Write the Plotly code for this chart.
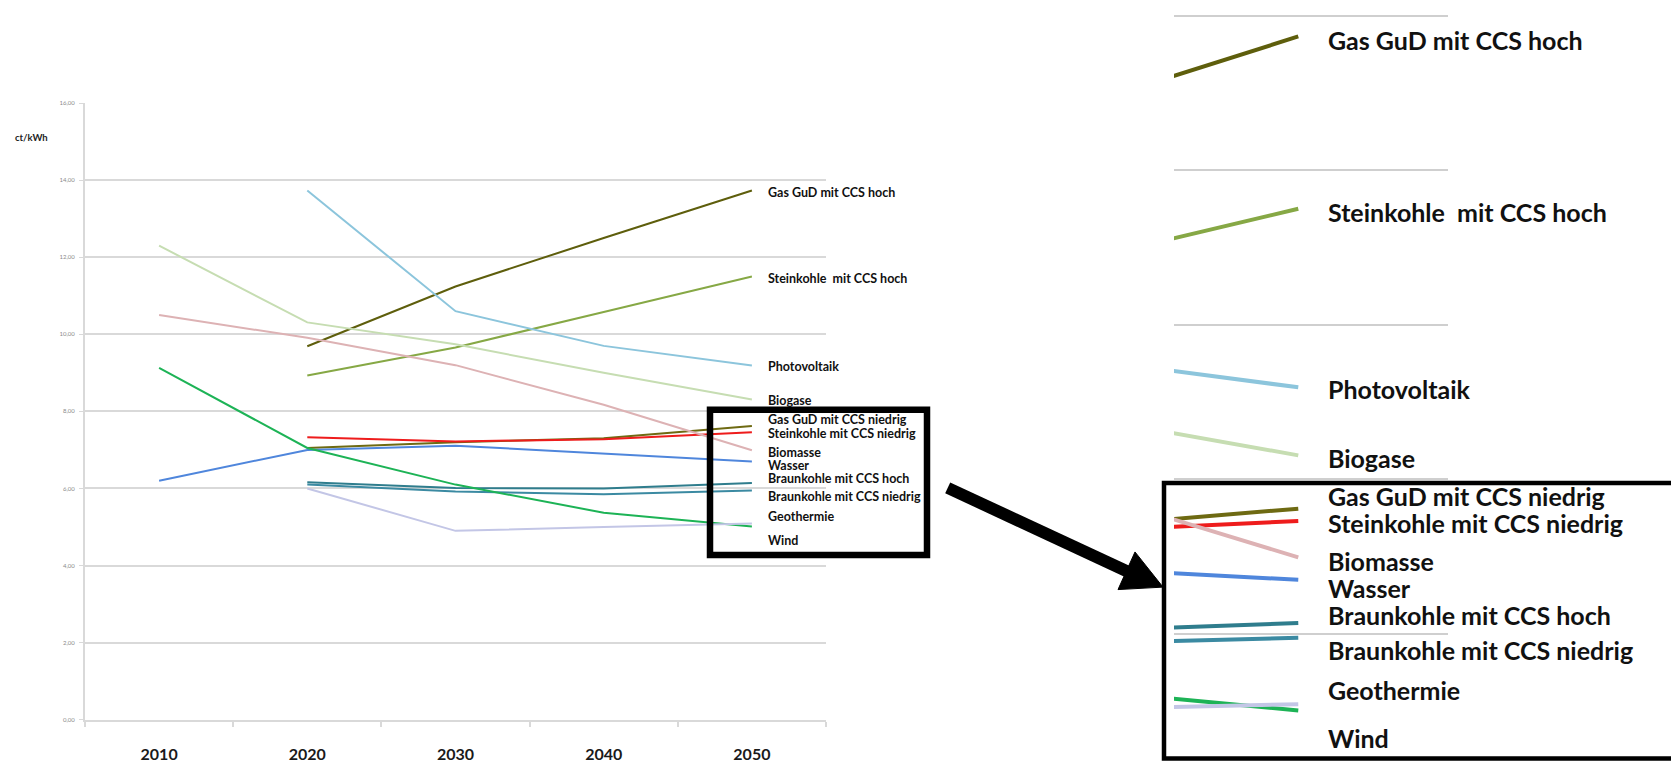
import plotly.graph_objects as go

# ---- data -------------------------------------------------------------
years = [2010, 2020, 2030, 2040, 2050]
year_labels = ["2010", "2020", "2030", "2040", "2050"]

series_names = [
    "Gas GuD mit CCS hoch",
    "Steinkohle  mit CCS hoch",
    "Photovoltaik",
    "Biogase",
    "Gas GuD mit CCS niedrig",
    "Steinkohle mit CCS niedrig",
    "Biomasse",
    "Wasser",
    "Braunkohle mit CCS hoch",
    "Braunkohle mit CCS niedrig",
    "Geothermie",
    "Wind",
]

gas_hoch = [None, 9.69, 11.24, 12.50, 13.73]
stein_hoch = [None, 8.93, 9.66, 10.58, 11.50]
photovoltaik = [None, 13.73, 10.60, 9.70, 9.19]
biogase = [12.30, 10.31, 9.74, 9.00, 8.31]
gas_niedrig = [None, 7.05, 7.20, 7.30, 7.62]
stein_niedrig = [None, 7.33, 7.22, 7.28, 7.46]
biomasse = [10.50, 9.91, 9.20, 8.17, 6.99]
wasser = [6.20, 7.00, 7.11, 6.90, 6.70]
braun_hoch = [None, 6.16, 6.01, 6.00, 6.14]
braun_niedrig = [None, 6.10, 5.92, 5.85, 5.95]
geothermie = [9.13, 7.05, 6.10, 5.37, 5.01]
wind = [None, 6.00, 4.90, 5.00, 5.09]

values = [gas_hoch, stein_hoch, photovoltaik, biogase, gas_niedrig, stein_niedrig,
          biomasse, wasser, braun_hoch, braun_niedrig, geothermie, wind]

y_ticks = [0, 2, 4, 6, 8, 10, 12, 14, 16]

# ---- styling ----------------------------------------------------------
colors = ["#5e5e0c", "#86a845", "#8cc5dc", "#c6ddb2", "#6e6a12", "#ee1c1c",
          "#ddb2b4", "#4f86dc", "#2f7d8d", "#3b8aa2", "#1db356", "#c3c6e6"]

# vertical placement of the end labels (ct/kWh units)
label_pos = [13.69, 11.46, 9.17, 8.27, 7.79, 7.43, 6.94, 6.59, 6.25, 5.79, 5.27, 4.65]

W, H = 1671, 765
FONT = "Lato"
GRID = "#d9d9d9"


def px(x):
    return x / W


def py(y):
    return 1 - y / H


fig = go.Figure()

# main chart and magnified view of the 2050 end
for vals, col in zip(values, colors):
    fig.add_trace(go.Scatter(x=years, y=vals, mode="lines", line=dict(color=col, width=2),
                             showlegend=False, hoverinfo="skip", xaxis="x", yaxis="y"))
for vals, col in zip(values, colors):
    fig.add_trace(go.Scatter(x=years, y=vals, mode="lines", line=dict(color=col, width=4),
                             showlegend=False, hoverinfo="skip", xaxis="x2", yaxis="y2"))

last_year = years[-1]
annotations = []
for name, ly in zip(series_names, label_pos):
    annotations.append(dict(x=last_year, y=ly, xref="x", yref="y", text=name, showarrow=False,
                            xanchor="left", yanchor="middle", xshift=14,
                            font=dict(family=FONT, size=12.5, color="#111111", weight="bold")))
    annotations.append(dict(x=last_year, y=ly, xref="x2", yref="y2", text=name, showarrow=False,
                            xanchor="left", yanchor="middle", xshift=28,
                            font=dict(family=FONT, size=25, color="#111111", weight="bold")))

annotations.append(dict(x=px(13), y=py(135), xref="paper", yref="paper", text="ct/kWh",
                        showarrow=False, xanchor="left", yanchor="middle",
                        font=dict(family=FONT, size=9.5, color="#222222", weight="bold")))

shapes = [
    # highlight frame around the 2050 labels
    dict(type="rect", xref="paper", yref="paper", x0=px(710), x1=px(927), y0=py(409.5), y1=py(556),
         line=dict(color="black", width=6.5), fillcolor="rgba(0,0,0,0)"),
    # frame of the magnified view
    dict(type="rect", xref="paper", yref="paper", x0=px(1164), x1=px(1690), y0=py(483.5), y1=py(761.5),
         line=dict(color="black", width=4.5), fillcolor="rgba(0,0,0,0)"),
    # arrow shaft
    dict(type="line", xref="paper", yref="paper", x0=px(947.7), y0=py(488.3), x1=px(1128), y1=py(573),
         line=dict(color="black", width=12)),
    # arrow head
    dict(type="path", xref="paper", yref="paper",
         path=f"M {px(1135)} {py(553)} L {px(1118)} {py(591)} L {px(1163)} {py(588.5)} Z",
         fillcolor="black", line=dict(color="black", width=1)),
]

fig.update_layout(
    width=W, height=H,
    margin=dict(l=0, r=0, t=0, b=0),
    paper_bgcolor="white", plot_bgcolor="white",
    separators=",.",
    annotations=annotations,
    shapes=shapes,
    xaxis=dict(range=[2005, 2055], domain=[px(85), px(826)], showgrid=False, zeroline=False,
               showline=True, linecolor=GRID, linewidth=2,
               tickvals=years, ticktext=year_labels, ticks="", ticklabelstandoff=19,
               minor=dict(tick0=2005, dtick=10, ticks="outside", ticklen=5,
                          tickcolor=GRID, tickwidth=1.5, showgrid=False),
               tickfont=dict(family=FONT, size=16, color="#1a1a1a", weight="bold")),
    yaxis=dict(range=[0, 16], domain=[py(722.3), py(100)], tickvals=y_ticks, tickformat=".2f",
               showgrid=True, gridcolor=GRID, gridwidth=1.5, zeroline=False,
               showline=True, linecolor=GRID, linewidth=2,
               ticks="outside", ticklen=4, tickcolor=GRID, ticklabelstandoff=3,
               tickfont=dict(family=FONT, size=6, color="#8a8a8a")),
    xaxis2=dict(range=[2045.85, 2055], domain=[px(1174), px(1448)], anchor="y2",
                showgrid=False, zeroline=False, showline=False, showticklabels=False, ticks=""),
    yaxis2=dict(range=[14.15 - H / 78, 14.15], domain=[0, 1], anchor="x2", dtick=2, tick0=0,
                showgrid=True, gridcolor="#cfcfcf", gridwidth=2, zeroline=False,
                showline=False, showticklabels=False, ticks=""),
)

fig.write_html("out.html")
